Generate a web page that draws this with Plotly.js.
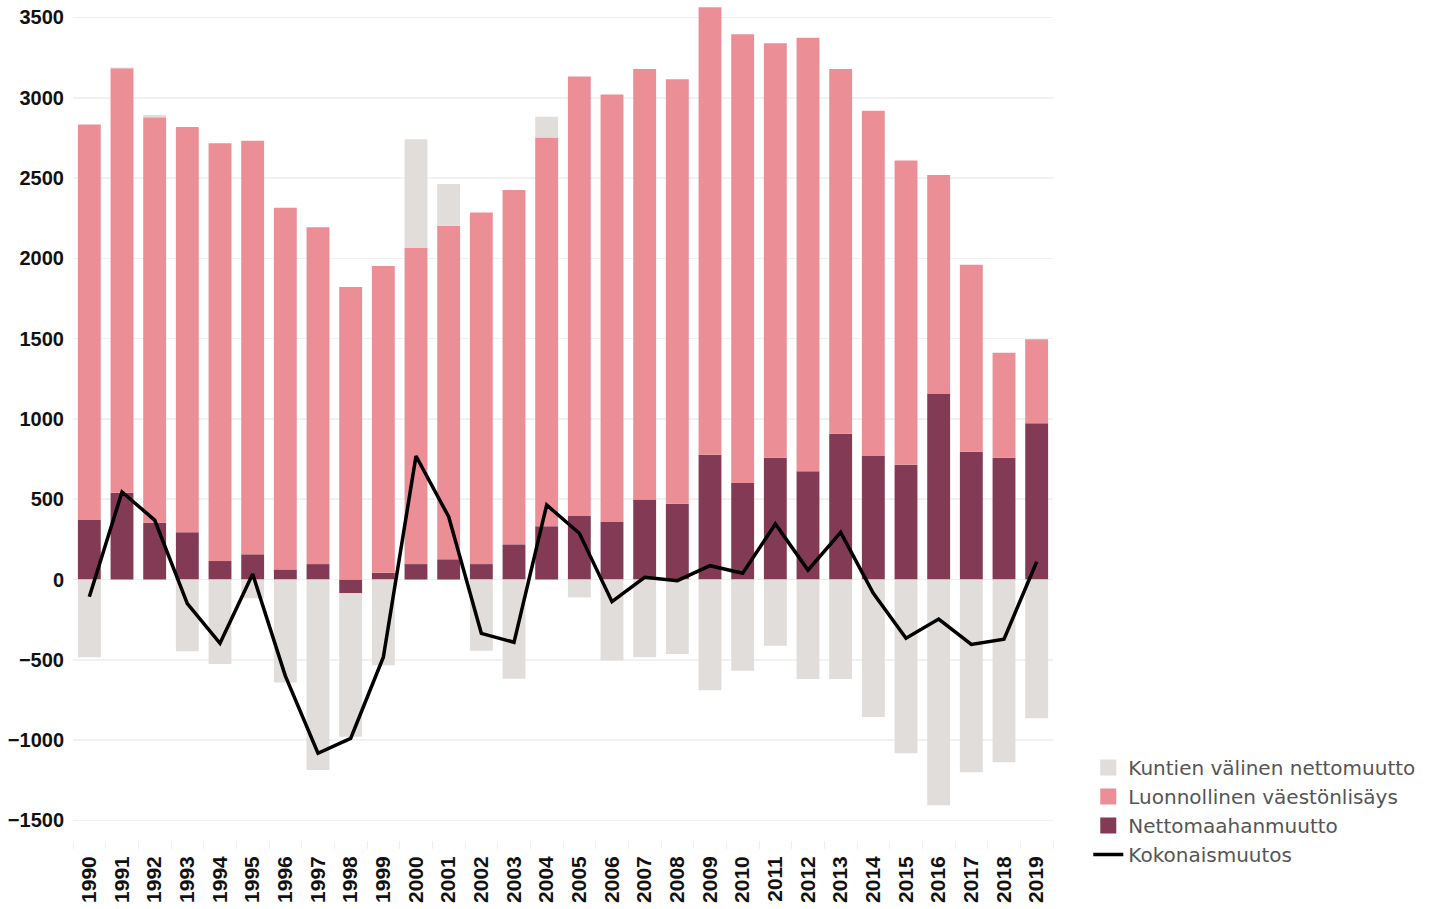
<!DOCTYPE html>
<html>
<head>
<meta charset="utf-8">
<script src="https://cdn.plot.ly/plotly-3.0.1.min.js"></script>
<style>html,body{margin:0;padding:0;background:#fff;}#chart{width:1432px;height:909px;}</style>
</head>
<body>
<div id="chart"></div>
<script>
var years = ["1990","1991","1992","1993","1994","1995","1996","1997","1998","1999","2000","2001","2002","2003","2004","2005","2006","2007","2008","2009","2010","2011","2012","2013","2014","2015","2016","2017","2018","2019"];
// Nettomaahanmuutto (net immigration)
var nettomaahanmuutto = [370,540,354,294,115,157,63,96,-86,42,96,126,96,219,331,395,362,499,472,777,601,758,674,908,769,715,1159,796,758,973];
// Luonnollinen väestönlisäys (natural increase), stacked on top of net immigration
var luonnollinen = [2464,2643,2524,2524,2601,2575,2252,2097,1821,1910,1968,2077,2190,2206,2422,2738,2659,2680,2643,2786,2794,2581,2700,2271,2150,1895,1360,1164,654,523];
// Kuntien välinen nettomuutto (net inter-municipal migration)
var kuntien = [-484,5,15,-447,-526,-117,-642,-1186,-893,-534,677,260,-443,-618,129,-111,-505,-484,-464,-690,-568,-412,-620,-620,-856,-1082,-1406,-1200,-1138,-864];
// Kokonaismuutos (total change)
var kokonais = [-107,545,370,-150,-397,34,-600,-1082,-989,-484,769,391,-335,-391,464,288,-138,14,-7,86,39,346,59,294,-86,-366,-246,-404,-372,111];

var names = ['Kuntien välinen nettomuutto','Luonnollinen väestönlisäys','Nettomaahanmuutto','Kokonaismuutos'];
var colors = ['#E0DDDA','#EB8E96','#833A55','#000000'];

var traces = [
  {type:'bar', name:names[2], x:years, y:nettomaahanmuutto, marker:{color:colors[2]}, showlegend:false},
  {type:'bar', name:names[1], x:years, y:luonnollinen, marker:{color:colors[1]}, showlegend:false},
  {type:'bar', name:names[0], x:years, y:kuntien, marker:{color:colors[0]}, showlegend:false},
  {type:'scatter', mode:'lines', name:names[3], x:years, y:kokonais, line:{color:colors[3], width:3.5}, legendrank:4},
  // legend-only square markers for the bar series
  {type:'scatter', mode:'markers', name:names[0], x:[null], y:[null], marker:{symbol:'square', size:16, color:colors[0]}, legendrank:1},
  {type:'scatter', mode:'markers', name:names[1], x:[null], y:[null], marker:{symbol:'square', size:16, color:colors[1]}, legendrank:2},
  {type:'scatter', mode:'markers', name:names[2], x:[null], y:[null], marker:{symbol:'square', size:16, color:colors[2]}, legendrank:3}
];

var layout = {
  width:1432, height:909,
  margin:{l:73, r:379, t:3, b:69},
  barmode:'relative',
  bargap:0.3,
  paper_bgcolor:'#ffffff', plot_bgcolor:'#ffffff',
  showlegend:true,
  legend:{x:1.036, y:0.11, xanchor:'left', yanchor:'top', traceorder:'normal',
    font:{family:'DejaVu Sans, sans-serif', size:20, color:'#555555'}, tracegroupgap:0, itemwidth:30,
    bgcolor:'rgba(0,0,0,0)'},
  xaxis:{type:'category', tickangle:-90, showgrid:false, zeroline:false,
    ticks:'outside', tickson:'boundaries', ticklen:8, tickcolor:'#eeeeee',
    ticklabelstandoff:11,
    tickfont:{family:'Liberation Sans, Arial, sans-serif', size:21, color:'#111111', weight:'bold'}},
  yaxis:{range:[-1622,3590], tickvals:[-1500,-1000,-500,0,500,1000,1500,2000,2500,3000,3500],
    showgrid:true, gridcolor:'#f1f1f1', gridwidth:1.5, zeroline:false, ticks:'',
    ticklabelstandoff:8,
    tickfont:{family:'Liberation Sans, Arial, sans-serif', size:20, color:'#111111', weight:'bold'}},
  font:{family:'DejaVu Sans, sans-serif'}
};

Plotly.newPlot('chart', traces, layout, {displayModeBar:false, staticPlot:true});
</script>
</body>
</html>
